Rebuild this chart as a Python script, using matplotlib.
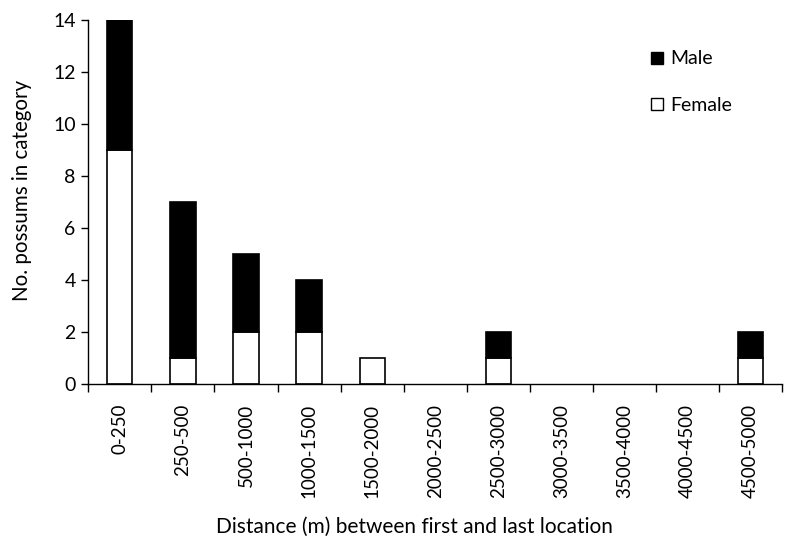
import matplotlib

matplotlib.use("Agg")
import matplotlib.pyplot as plt
import numpy as np
from matplotlib.lines import Line2D

categories = ["0-250", "250-500", "500-1000", "1000-1500", "1500-2000", "2000-2500",
              "2500-3000", "3000-3500", "3500-4000", "4000-4500", "4500-5000"]
female = [9, 1, 2, 2, 1, 0, 1, 0, 0, 0, 1]
male = [5, 6, 3, 2, 0, 0, 1, 0, 0, 0, 1]

plt.rcParams["font.family"] = ["Lato", "DejaVu Sans"]
fs = 14

fig = plt.figure(figsize=(7.95, 5.44), dpi=100)
ax = fig.add_axes([0.111, 0.294, 0.873, 0.669])

xs = np.arange(len(categories))
# hide outlines of empty bars
female_lw = [1.2 if (f + m) > 0 else 0 for f, m in zip(female, male)]
male_lw = [1.2 if m > 0 else 0 for m in male]
ax.bar(xs, female, width=0.4, color="white", edgecolor="black", linewidth=female_lw)
ax.bar(xs, male, width=0.4, bottom=female, color="black", edgecolor="black", linewidth=male_lw)

ax.set_xlim(-0.5, len(categories) - 0.5)
ax.set_ylim(0, 14)
ax.set_yticks(range(0, 15, 2))
ax.set_xticks(xs)
ax.set_xticklabels(categories, rotation=90, fontsize=13.5)
ax.tick_params(axis="x", length=0, pad=14)
ax.set_xticks(np.arange(-0.5, len(categories), 1), minor=True)
ax.tick_params(axis="x", which="minor", length=6, direction="out", width=1)
ax.tick_params(axis="y", length=5, direction="out", labelsize=fs, width=1, pad=4)

for s in ["top", "right"]:
    ax.spines[s].set_visible(False)
for s in ["left", "bottom"]:
    ax.spines[s].set_linewidth(1)

ax.set_ylabel("No. possums in category", fontsize=14.8, va="center")
ax.yaxis.set_label_coords(-0.095, 0.533)
ax.set_xlabel("Distance (m) between first and last location", fontsize=15, va="center")
ax.xaxis.set_label_coords(0.47, -0.393)

handles = [
    Line2D([], [], marker="s", linestyle="none", markersize=9, markerfacecolor="black", markeredgecolor="black"),
    Line2D([], [], marker="s", linestyle="none", markersize=9, markerfacecolor="white", markeredgecolor="black"),
]
ax.legend(handles, ["Male", "Female"], loc="upper left", bbox_to_anchor=(0.78, 0.965),
          frameon=False, fontsize=fs, labelspacing=1.5, handletextpad=0.2, handlelength=1.0)

fig.savefig("out.png", dpi=100)
